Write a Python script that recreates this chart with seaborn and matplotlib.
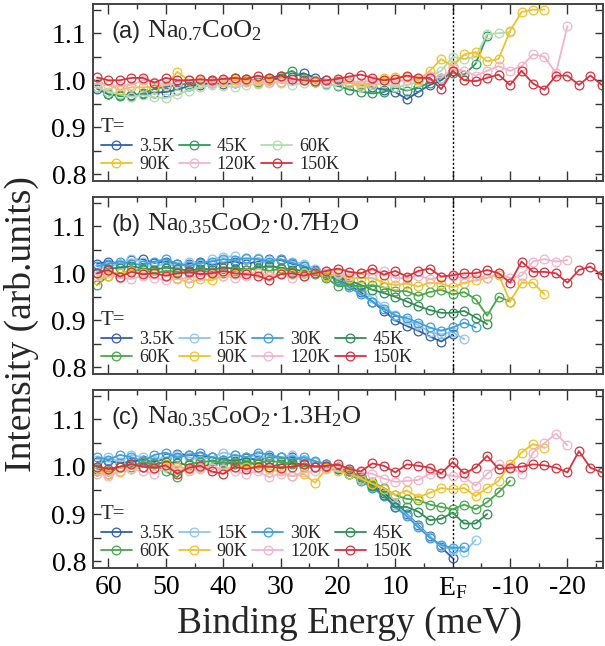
import matplotlib
matplotlib.use("Agg")
import matplotlib.pyplot as plt
import seaborn as sns
from matplotlib.ticker import MultipleLocator, FixedLocator, FixedFormatter

# ---------------- data ----------------
energy = [62, 60, 58, 56, 54, 52, 50, 48, 46, 44, 42, 40, 38, 36, 34, 32, 30, 28, 26, 24,
          22, 20, 18, 16, 14, 12, 10, 8, 6, 4, 2, 0, -2, -4, -6, -8, -10, -12, -14, -16,
          -18, -20, -22, -24, -26]

x_ticks = [60, 50, 40, 30, 20, 10, 0, -10, -20]
x_tick_labels = ["60", "50", "40", "30", "20", "10", r"E$_\mathrm{F}$", "-10", "-20"]
y_ticks = [0.8, 0.9, 1.0, 1.1]

# panel (a) Na0.7CoO2
a_labels = ["3.5K", "45K", "60K", "90K", "120K", "150K"]
a_3p5 = [0.982, 0.97, 0.968, 0.969, 0.97, 0.974, 0.975, 0.98, 0.988, 0.991, 0.994, 0.992, 0.994, 0.998,
         1.001, 1.0, 1.005, 1.008, 1.015, 1.005, 1.001, 0.998, 0.995, 0.99, 0.985, 0.98, 0.975, 0.96,
         0.975, 0.99, 1.0, 1.02]
a_45 = [0.985, 0.97, 0.966, 0.967, 0.972, 0.982, 0.986, 0.99, 0.993, 0.995, 0.998, 1.0, 1.004, 1.003,
        0.996, 1.004, 1.01, 1.02, 1.005, 0.996, 0.993, 0.988, 0.98, 0.976, 0.972, 0.975, 0.985, 0.978,
        0.985, 0.995, 1.005, 1.015, 1.012, 1.035, 1.095]
a_60 = [0.985, 0.976, 0.97, 0.965, 0.968, 0.964, 0.962, 0.97, 0.978, 0.985, 0.99, 0.988, 0.986, 0.99,
        0.992, 0.995, 0.996, 0.99, 0.994, 1.0, 0.99, 0.99, 0.995, 0.985, 0.99, 0.994, 0.985, 0.99,
        0.996, 1.008, 1.02, 1.05, 1.045, 1.05, 1.098, 1.1, 1.102]
a_90 = [0.995, 0.99, 0.98, 0.985, 0.985, 0.986, 0.99, 1.018, 1.0, 1.0, 1.0, 0.996, 1.0, 1.0,
        0.995, 1.0, 0.996, 1.0, 1.0, 0.996, 1.0, 1.0, 0.995, 0.99, 0.995, 1.005, 1.006, 1.008,
        1.0, 1.02, 1.045, 1.03, 1.055, 1.06, 1.04, 1.045, 1.105, 1.145, 1.15, 1.15]
a_120 = [0.995, 0.99, 0.988, 0.99, 1.0, 0.996, 0.99, 0.995, 1.0, 0.998, 0.995, 1.0, 0.995, 0.996,
         1.0, 0.997, 0.995, 1.0, 1.0, 0.998, 0.995, 1.0, 0.998, 0.996, 1.0, 1.0, 0.998, 1.0,
         1.005, 1.01, 1.005, 1.025, 1.02, 1.01, 1.02, 1.03, 1.02, 1.03, 1.055, 1.05, 1.015, 1.115]
a_150 = [1.006, 1.0, 1.0, 1.005, 1.005, 0.995, 1.005, 1.0, 1.0, 1.002, 1.0, 1.003, 1.005, 1.002,
         1.01, 1.004, 1.01, 1.003, 1.0, 0.998, 1.0, 1.003, 1.008, 1.012, 1.005, 1.0, 1.003, 1.01,
         1.005, 1.005, 0.981, 1.02, 1.0, 0.998, 1.005, 1.012, 0.99, 1.02, 0.993, 0.98, 1.01, 1.01,
         0.99, 1.01, 0.99]

# panel (b) Na0.35CoO2.0.7H2O
b_labels = ["3.5K", "15K", "30K", "45K", "60K", "90K", "120K", "150K"]
b_3p5 = [1.02, 1.025, 1.02, 1.028, 1.03, 1.022, 1.025, 1.02, 1.02, 1.025, 1.018, 1.022, 1.025, 1.02,
         1.025, 1.03, 1.028, 1.02, 1.015, 1.008, 0.996, 0.985, 0.975, 0.96, 0.94, 0.92, 0.9, 0.888,
         0.878, 0.866, 0.855, 0.87]
b_15 = [1.01, 1.015, 1.02, 1.03, 1.025, 1.015, 1.02, 1.015, 1.025, 1.02, 1.03, 1.035, 1.036, 1.03,
        1.032, 1.028, 1.03, 1.025, 1.02, 1.01, 1.0, 0.99, 0.978, 0.965, 0.948, 0.93, 0.912, 0.9,
        0.89, 0.875, 0.87, 0.875, 0.86]
b_30 = [1.015, 1.02, 1.025, 1.02, 1.018, 1.025, 1.03, 1.02, 1.015, 1.022, 1.025, 1.03, 1.028, 1.032,
        1.03, 1.025, 1.03, 1.022, 1.015, 1.005, 0.995, 0.985, 0.97, 0.955, 0.94, 0.925, 0.91, 0.905,
        0.895, 0.885, 0.878, 0.885, 0.895, 0.885]
b_45 = [1.0, 1.01, 1.012, 1.015, 1.01, 1.008, 1.012, 1.01, 1.005, 1.01, 1.008, 1.012, 1.01, 1.008,
        1.012, 1.015, 1.012, 1.008, 1.005, 1.0, 0.995, 0.99, 0.985, 0.975, 0.965, 0.958, 0.95, 0.94,
        0.93, 0.922, 0.916, 0.916, 0.92, 0.906, 0.892]
b_60 = [0.975, 0.995, 1.0, 1.005, 1.008, 1.0, 1.005, 1.003, 1.0, 1.005, 1.003, 1.0, 1.005, 1.008,
        1.01, 1.005, 1.01, 1.003, 1.0, 0.998, 0.99, 0.972, 0.975, 0.972, 0.975, 0.97, 0.962, 0.962,
        0.952, 0.96, 0.965, 0.955, 0.96, 0.945, 0.91, 0.95, 0.94]
b_90 = [0.985, 0.995, 1.0, 1.005, 1.0, 0.998, 0.995, 0.99, 0.98, 0.988, 0.985, 0.995, 0.998, 1.0,
        1.0, 0.995, 1.0, 0.998, 1.0, 1.0, 0.995, 0.998, 0.99, 0.99, 0.99, 0.98, 0.975, 0.978,
        0.972, 0.98, 0.978, 0.97, 0.98, 0.985, 0.99, 0.997, 0.94, 0.98, 0.98, 0.955]
b_120 = [0.995, 1.0, 0.99, 0.988, 0.995, 0.99, 0.985, 0.988, 0.99, 0.995, 0.998, 0.995, 0.99, 0.995,
         1.0, 0.995, 0.998, 0.99, 0.995, 1.0, 1.005, 1.0, 0.995, 1.0, 0.998, 1.005, 0.99, 0.99,
         0.995, 0.988, 0.992, 0.995, 0.988, 0.995, 0.99, 1.0, 0.99, 0.995, 1.025, 1.03, 1.025, 1.028]
b_150 = [1.0, 1.007, 0.993, 1.003, 0.998, 1.0, 0.995, 1.0, 1.003, 0.998, 1.0, 1.005, 1.0, 0.998,
         0.995, 0.986, 0.998, 1.0, 0.995, 1.0, 1.005, 1.01, 1.003, 1.0, 1.01, 0.997, 1.005, 0.993,
         1.005, 1.01, 0.993, 0.996, 1.0, 1.0, 1.007, 1.0, 0.98, 1.025, 1.003, 1.003, 1.0, 0.98,
         1.007, 1.014, 0.996]

# panel (c) Na0.35CoO2.1.3H2O
c_labels = ["3.5K", "15K", "30K", "45K", "60K", "90K", "120K", "150K"]
c_3p5 = [1.01, 1.012, 1.008, 1.01, 1.015, 1.01, 1.018, 1.027, 1.025, 1.023, 1.02, 1.015, 1.012, 1.018,
         1.015, 1.02, 1.02, 1.02, 1.015, 1.01, 1.005, 1.0, 0.992, 0.978, 0.962, 0.945, 0.924, 0.9,
         0.877, 0.853, 0.83, 0.807]
c_15 = [1.015, 1.02, 1.01, 1.025, 1.02, 1.015, 1.02, 1.025, 1.02, 1.015, 1.02, 1.03, 1.025, 1.02,
        1.025, 1.015, 1.02, 1.025, 1.015, 1.01, 1.005, 0.998, 0.99, 0.975, 0.958, 0.94, 0.92, 0.898,
        0.875, 0.852, 0.832, 0.825, 0.82, 0.845]
c_30 = [1.02, 1.015, 1.025, 1.02, 1.012, 1.025, 1.03, 1.02, 1.025, 1.03, 1.02, 1.015, 1.025, 1.02,
        1.03, 1.025, 1.02, 1.015, 1.02, 1.012, 1.005, 0.995, 0.985, 0.97, 0.955, 0.938, 0.915, 0.895,
        0.872, 0.85, 0.835, 0.828, 0.83]
c_45 = [0.995, 0.99, 1.0, 1.005, 1.0, 1.005, 1.01, 1.008, 1.003, 1.0, 1.005, 1.01, 1.005, 1.01,
        1.005, 1.0, 1.005, 1.008, 1.005, 1.0, 1.0, 0.995, 0.985, 0.975, 0.96, 0.94, 0.915, 0.915,
        0.905, 0.887, 0.89, 0.903, 0.88, 0.88, 0.9]
c_60 = [0.99, 0.985, 1.0, 1.0, 1.01, 1.005, 0.99, 0.978, 1.005, 1.01, 1.012, 1.008, 1.01, 1.005,
        1.008, 1.012, 1.01, 1.005, 1.0, 1.0, 1.002, 1.0, 0.99, 0.98, 0.968, 0.955, 0.94, 0.932,
        0.93, 0.92, 0.915, 0.91, 0.92, 0.91, 0.925, 0.946, 0.97]
c_90 = [0.99, 0.985, 0.988, 0.995, 1.0, 0.998, 1.005, 1.0, 0.995, 1.0, 0.998, 0.995, 1.0, 1.0,
        0.998, 0.995, 0.99, 0.98, 0.985, 0.966, 0.997, 0.99, 0.985, 0.975, 0.964, 0.954, 0.94, 0.95,
        0.935, 0.945, 0.955, 0.952, 0.955, 0.938, 0.955, 0.97, 1.005, 1.03, 1.048, 1.04]
c_120 = [0.985, 0.98, 0.99, 0.995, 0.99, 0.985, 1.0, 0.995, 0.99, 0.995, 0.998, 0.995, 0.99, 0.985,
         0.99, 0.978, 0.985, 0.98, 0.988, 0.99, 0.995, 1.0, 0.995, 0.988, 0.985, 0.975, 0.968, 0.97,
         0.972, 0.985, 0.985, 0.98, 0.978, 0.96, 0.985, 1.005, 1.0, 0.985, 1.03, 1.05, 1.07, 1.045]
c_150 = [1.0, 0.995, 1.0, 1.005, 1.0, 0.998, 1.003, 0.985, 0.998, 1.002, 0.99, 0.985, 1.0, 0.995,
         1.0, 1.0, 0.998, 1.0, 1.005, 1.0, 1.002, 1.005, 0.995, 0.99, 1.007, 1.002, 0.988, 1.005,
         1.002, 0.998, 0.986, 1.01, 0.986, 0.998, 1.023, 0.995, 0.998, 1.0, 1.005, 1.003, 0.998,
         0.988, 1.033, 0.998, 0.988]

# ---------------- style ----------------
colors = {
    "3.5K": "#3560a8", "15K": "#8ec6ee", "30K": "#3d9fdc", "45K": "#2f8d55",
    "60K": "#48a84a", "90K": "#f0c22c", "120K": "#f2b4c8", "150K": "#d8323c",
}
colors_a = dict(colors, **{"45K": "#2f9a5e", "60K": "#b2dcae"})

sns.set_theme(style="ticks")
plt.rcParams["font.family"] = ["Liberation Serif", "DejaVu Serif"]
plt.rcParams["mathtext.fontset"] = "custom"
plt.rcParams["mathtext.rm"] = "Liberation Serif"
plt.rcParams["mathtext.it"] = "Liberation Serif:italic"
plt.rcParams["axes.unicode_minus"] = False

fig = plt.figure(figsize=(6.05, 6.46), dpi=100)
left, width = 0.1537, 0.843
axa = fig.add_axes([left, 0.7198, width, 0.274])
axb = fig.add_axes([left, 0.4210, width, 0.274])
axc = fig.add_axes([left, 0.1207, width, 0.2755])

panels = [
    (axa, a_labels, [a_3p5, a_45, a_60, a_90, a_120, a_150], colors_a, "(a)",
     r"Na$_{0.7}$CoO$_2$", 3),
    (axb, b_labels, [b_3p5, b_15, b_30, b_45, b_60, b_90, b_120, b_150], colors, "(b)",
     r"Na$_{0.35}$CoO$_2$·0.7H$_2$O", 4),
    (axc, c_labels, [c_3p5, c_15, c_30, c_45, c_60, c_90, c_120, c_150], colors, "(c)",
     r"Na$_{0.35}$CoO$_2$·1.3H$_2$O", 4),
]

for ax, labels, series, cmap, tag, formula, ncol in panels:
    ax.axvline(0, color="black", lw=1.0, ls=(0, (1.5, 1.5)), zorder=1)
    for lab, vals in zip(labels, series):
        c = cmap[lab]
        sns.lineplot(x=energy[:len(vals)], y=vals, ax=ax, color=c, sort=False,
                     marker="o", markersize=6.3, markerfacecolor="none",
                     markeredgecolor=c, markeredgewidth=0.9, linewidth=1.3,
                     label=lab, zorder=2)
    ax.set_xlim(62.7, -26.2)
    ax.set_ylim(0.786, 1.162)
    ax.set_xlabel("")
    ax.set_ylabel("")
    ax.xaxis.set_major_locator(FixedLocator(x_ticks))
    ax.xaxis.set_minor_locator(MultipleLocator(5))
    ax.yaxis.set_major_locator(FixedLocator(y_ticks))
    ax.yaxis.set_minor_locator(MultipleLocator(0.05))
    ax.yaxis.set_major_formatter(FixedFormatter([f"{v:.1f}" for v in y_ticks]))
    ax.tick_params(axis="both", which="both", direction="in", top=True, right=True,
                   colors="#333333", labelcolor="black", width=1.0)
    ax.tick_params(axis="x", which="major", length=7)
    ax.tick_params(axis="x", which="minor", length=3.5)
    ax.tick_params(axis="y", which="both", length=6)
    ax.tick_params(axis="y", labelsize=20, pad=5)
    ax.tick_params(axis="x", labelsize=20, pad=5)
    for sp in ax.spines.values():
        sp.set_linewidth(1.4)
        sp.set_color("#444444")
    if ax is axc:
        ax.xaxis.set_major_formatter(FixedFormatter(x_tick_labels))
    else:
        ax.tick_params(axis="x", labelbottom=False)
    ax.text(0.037, 0.81, tag, transform=ax.transAxes, fontsize=17,
            family=["Liberation Sans", "DejaVu Sans"], va="baseline", ha="left")
    ax.text(0.106, 0.81, formula, transform=ax.transAxes, fontsize=19,
            va="baseline", ha="left")
    handles, labs = ax.get_legend_handles_labels()
    nrows = (len(handles) + ncol - 1) // ncol
    order = [r * ncol + j for j in range(ncol) for r in range(nrows) if r * ncol + j < len(handles)]
    leg = ax.legend([handles[i] for i in order], [labs[i] for i in order], ncol=ncol,
                    loc="lower left", bbox_to_anchor=(0.0, 0.0),
                    frameon=False, fontsize=13, title="T=", title_fontsize=15,
                    alignment="left", handlelength=1.7, handletextpad=0.4,
                    columnspacing=0.25, labelspacing=0.05, borderaxespad=0.3,
                    borderpad=0.15)

fig.text(0.036, 0.498, "Intensity (arb.units)", rotation=90, fontsize=27,
         ha="center", va="center")
fig.text(0.577, 0.035, "Binding Energy (meV)", fontsize=27, ha="center", va="center")

fig.savefig("out.png", dpi=100)
